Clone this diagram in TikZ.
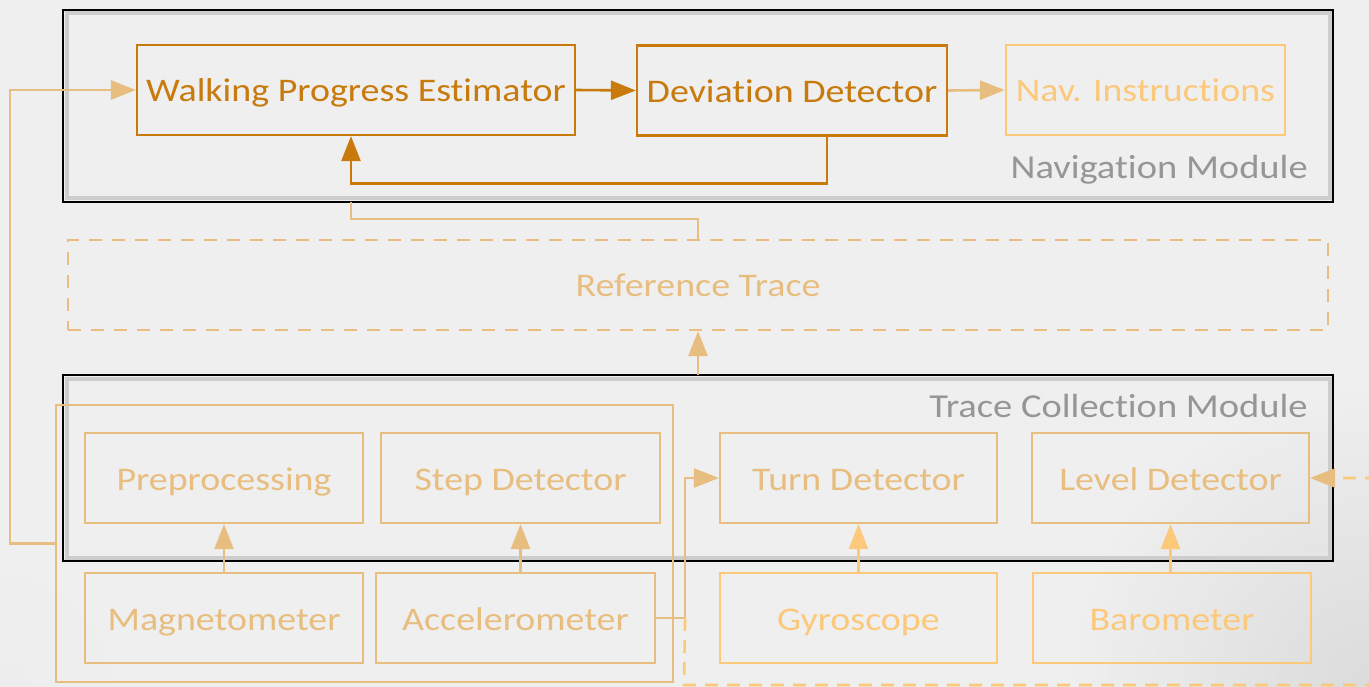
\documentclass[tikz,border=0pt]{standalone}
\usepackage{fontspec}
\setmainfont[FakeStretch=1.15,Ligatures=NoCommon]{Carlito}
\usetikzlibrary{arrows.meta,calc}
\definecolor{bgc}{RGB}{239,239,239}
\definecolor{darko}{RGB}{200,122,12}
\definecolor{lighta}{RGB}{232,190,128}
\definecolor{lightb}{RGB}{252,200,122}
\definecolor{greytxt}{RGB}{150,150,150}
\definecolor{band}{RGB}{205,205,205}
\begin{document}
\begin{tikzpicture}[x=1pt,y=-1pt,
  box/.style={draw,line width=2.2pt,minimum height=90pt,inner sep=0pt,text height=28pt,text depth=4pt,font=\fontsize{33}{36}\selectfont},
  darkbox/.style={box,draw=darko,text=darko},
  boxa/.style={box,draw=lighta,text=lighta},
  boxb/.style={box,draw=lightb,text=lightb},
  boxab/.style={box,draw=lighta,text=lighta},
  conn/.style={line width=2.6pt},
  tip/.style={-{Triangle[length=25pt,width=19pt]}},
  frameout/.style={draw=black,line width=1.5pt},
  frameband/.style={draw=band,line width=4pt},
  modlabel/.style={text=greytxt,font=\fontsize{33.5}{36}\selectfont,inner sep=0pt}
]
\useasboundingbox (0,0) rectangle (1369,687);
\clip (0,0) rectangle (1369,687);
\fill[bgc] (0,0) rectangle (1369,687);
\shade[inner color=black!14,outer color=bgc] (1369,687) circle (300);
\shade[inner color=black!7,outer color=bgc] (0,687) circle (150);

% module frames
\node[minimum width=1270pt,minimum height=192pt,inner sep=0pt] (navf) at (698,106) {};
\draw[frameband] (66.5,13.5) rectangle (1329.5,198.5);
\draw[frameout] (63,10) rectangle (1333,202);
\node[modlabel,anchor=base east] (navlbl) at (1308,179) {Navigation Module};

\node[minimum width=1270pt,minimum height=186pt,inner sep=0pt] (tcm) at (698,468) {};
\draw[frameband] (66.5,378.5) rectangle (1329.5,557.5);
\draw[frameout] (63,375) rectangle (1333,561);
\node[modlabel,anchor=base east] (tcmlbl) at (1308,417) {Trace Collection Module};

% nodes
\node[darkbox,minimum width=438pt] (wpe) at (356,90) {Walking Progress Estimator};
\node[darkbox,minimum width=310pt] (dd) at (792,90.5) {Deviation Detector};
\node[boxb,minimum width=279pt] (nav) at (1145.5,90) {Nav. Instructions};
\node[boxa,minimum width=1260pt,dash pattern=on 13pt off 10pt,line width=2pt] (ref) at (698,285) {Reference Trace};

\node[boxa,minimum width=278pt] (prep) at (224,478) {Preprocessing};
\node[boxa,minimum width=279pt] (step) at (520.5,478) {Step Detector};
\node[boxab,minimum width=277pt] (turn) at (858.5,478) {Turn Detector};
\node[boxab,minimum width=277pt] (level) at (1170.5,478) {Level Detector};
\node[boxa,minimum width=278pt] (mag) at (224,618) {Magnetometer};
\node[boxa,minimum width=279pt] (acc) at (515.5,618) {Accelerometer};
\node[boxb,minimum width=277pt] (gyro) at (858.5,618) {Gyroscope};
\node[boxb,minimum width=278pt] (baro) at (1172,618) {Barometer};

% group rectangle
\node[draw=lighta,line width=2.2pt,minimum width=617pt,minimum height=277pt,inner sep=0pt] (grp) at (364.5,543.5) {};

% coordinates
\coordinate (wpein) at ($(wpe.south)+(-5,0)$);
\coordinate (ddout) at ($(dd.south)+(35,0)$);
\coordinate (j1) at ($(acc.east)+(29,0)$);
\coordinate (c1) at (684,685);
\coordinate (c2) at (1400,685);
\coordinate (c3) at (1400,478);

% connectors
\draw[conn,tip,darko] (wpe.east) -- (dd.west);
\draw[conn,tip,lighta] (dd.east) -- (nav.west);
\draw[conn,lighta] (ref.north) -- ++(0,-20) -| (wpein |- navf.south);
\draw[conn,tip,darko] (ddout) -- ++(0,47) -| (wpein);
\draw[conn,tip,lighta] (grp.west) -- ++(-45,0) |- (wpe.west);
\draw[conn,tip,lighta] (tcm.north) -- (ref.south);
\draw[conn,tip,lighta] (mag.north) -- (prep.south);
\draw[conn,tip,lighta] (step.south |- acc.north) -- (step.south);
\draw[conn,tip,lightb] (gyro.north) -- (turn.south);
\draw[conn,tip,lightb] (level.south |- baro.north) -- (level.south);
\draw[conn,tip,lighta] (acc.east) -- (j1) |- (turn.west);
\draw[conn,lightb,dash pattern=on 13pt off 9pt] (j1) -- (c1) -- (c2) -- (c3) -- ($(level.east)+(20,0)$);
\draw[conn,tip,lighta] ($(level.east)+(22,0)$) -- (level.east);
\end{tikzpicture}
\end{document}
